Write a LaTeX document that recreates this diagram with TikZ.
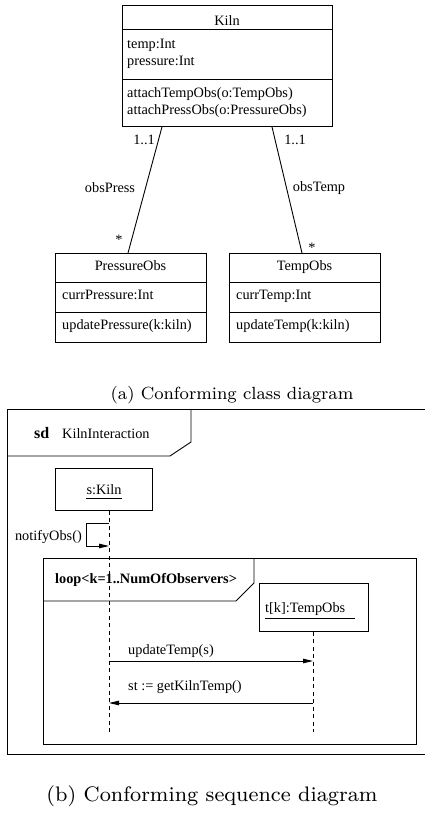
\documentclass[tikz,border=0pt]{standalone}
\usepackage{fontspec}
\newfontfamily\umlfont{Liberation Serif}
\newfontfamily\capfont{lmroman8-regular.otf}
\usetikzlibrary{arrows.meta}

\tikzset{
  umltext/.style={font=\umlfont\fontsize{14.3}{17.5}\selectfont, inner sep=0pt},
  umlbold/.style={font=\umlfont\bfseries\fontsize{14.3}{17.5}\selectfont, inner sep=0pt},
  captext/.style={font=\capfont\fontsize{17.6}{21}\selectfont, inner sep=0pt},
  box/.style={draw, line width=0.9pt, inner sep=0pt, anchor=north west},
  thin/.style={line width=0.9pt},
  lifeline/.style={line width=0.9pt, dash pattern=on 4pt off 3.5pt},
  msg/.style={line width=0.9pt, -{Triangle[length=10pt,width=4.5pt]}},
}

\begin{document}
\begin{tikzpicture}[x=1pt,y=-1pt]
\useasboundingbox (0,0) rectangle (425,820);
\clip (0,0) rectangle (425,820);

% ---------- class diagram ----------
\node[box, minimum width=210pt, minimum height=121pt] (kiln) at (122,5) {};
\draw[thin] (122,29) -- (332,29);
\draw[thin] (122,79) -- (332,79);
\node[umltext, anchor=base] (kilnname) at (227,25) {Kiln};
\node[umltext, anchor=base west] (kattr1) at (127,48) {temp:Int};
\node[umltext, anchor=base west] (kattr2) at (127,65.5) {pressure:Int};
\node[umltext, anchor=base west] (kop1) at (127,97) {attachTempObs(o:TempObs)};
\node[umltext, anchor=base west] (kop2) at (127,114.5) {attachPressObs(o:PressureObs)};

\node[box, minimum width=151pt, minimum height=89pt] (pobs) at (55,253) {};
\draw[thin] (55,282) -- (206,282);
\draw[thin] (55,312) -- (206,312);
\node[umltext, anchor=base] (pname) at (130.5,270) {PressureObs};
\node[umltext, anchor=base west] (pattr) at (62,299) {currPressure:Int};
\node[umltext, anchor=base west] (pop) at (62,329) {updatePressure(k:kiln)};

\node[box, minimum width=151pt, minimum height=89pt] (tobs) at (229,253) {};
\draw[thin] (229,282) -- (380,282);
\draw[thin] (229,312) -- (380,312);
\node[umltext, anchor=base] (tname) at (304.5,270) {TempObs};
\node[umltext, anchor=base west] (tattr) at (236,299) {currTemp:Int};
\node[umltext, anchor=base west] (top) at (236,329) {updateTemp(k:kiln)};

% associations
\draw[thin] ([xshift=40pt]kiln.south west) -- ([xshift=73pt]pobs.north west);
\draw[thin] ([xshift=150pt]kiln.south west) -- ([xshift=73pt]tobs.north west);
\node[umltext] (m1) at (144,140) {1..1};
\node[umltext] (m2) at (295,140) {1..1};
\node[umltext] (r1) at (110,188) {obsPress};
\node[umltext] (r2) at (319,188) {obsTemp};
\node[umltext] (s1) at (119,240) {*};
\node[umltext] (s2) at (312,248) {*};

\node[captext, anchor=base] (capa) at (232,399) {(a) Conforming class diagram};

% ---------- sequence diagram ----------
\node[box, minimum width=430pt, minimum height=345pt] (frame) at (7,409) {};
\draw[thin] (7,456) -- (170,456) -- (191,442) -- (191,409);
\node[umlbold, font=\umlfont\bfseries\fontsize{16}{18}\selectfont, anchor=base west] (sd) at (34,438) {sd};
\node[umltext, anchor=base west] (sdname) at (62,438) {KilnInteraction};

\node[box, minimum width=97pt, minimum height=42pt] (kobj) at (55,468) {};
\node[umltext, anchor=base] (kobjname) at (104,494) {s:Kiln};
\draw[thin] (86,498.5) -- (122,498.5);
\coordinate (kend) at (109,732);
\draw[lifeline] (kobj.south -| kend) -- (kend);

% self call
\coordinate (selftop) at (0,523);
\coordinate (selfbot) at (0,546);
\draw[msg] (kend |- selftop) -- (86,523) -- (86,546) -- (kend |- selfbot);
\node[umltext, anchor=base east] (selflbl) at (82,540) {notifyObs()};

% loop fragment
\node[box, minimum width=373pt, minimum height=186pt] (loop) at (43,558) {};
\draw[thin] (43,601) -- (236,601) -- (254,583) -- (254,558);
\node[umlbold, anchor=base west] (looplbl) at (55,583.5) {loop<k=1..NumOfObservers>};

\node[box, minimum width=109pt, minimum height=48pt, fill=white] (tobj) at (259,583) {};
\node[umltext, anchor=base west] (tobjname) at (265,612) {t[k]:TempObs};
\draw[thin] (265,618) -- (355,618);
\coordinate (tend) at (313,732);
\draw[lifeline] (tobj.south -| tend) -- (tend);

% messages
\coordinate (msga) at (0,661);
\coordinate (msgb) at (0,703);
\draw[msg] (kend |- msga) -- (tend |- msga);
\node[umltext, anchor=base west] (msgalbl) at (128,654) {updateTemp(s)};
\draw[msg] (tend |- msgb) -- (kend |- msgb);
\node[umltext, anchor=base west] (msgblbl) at (128,690.5) {st := getKilnTemp()};

\node[captext, font=\capfont\fontsize{21}{25}\selectfont, anchor=base] (capb) at (212,801) {(b) Conforming sequence diagram};
\end{tikzpicture}
\end{document}
